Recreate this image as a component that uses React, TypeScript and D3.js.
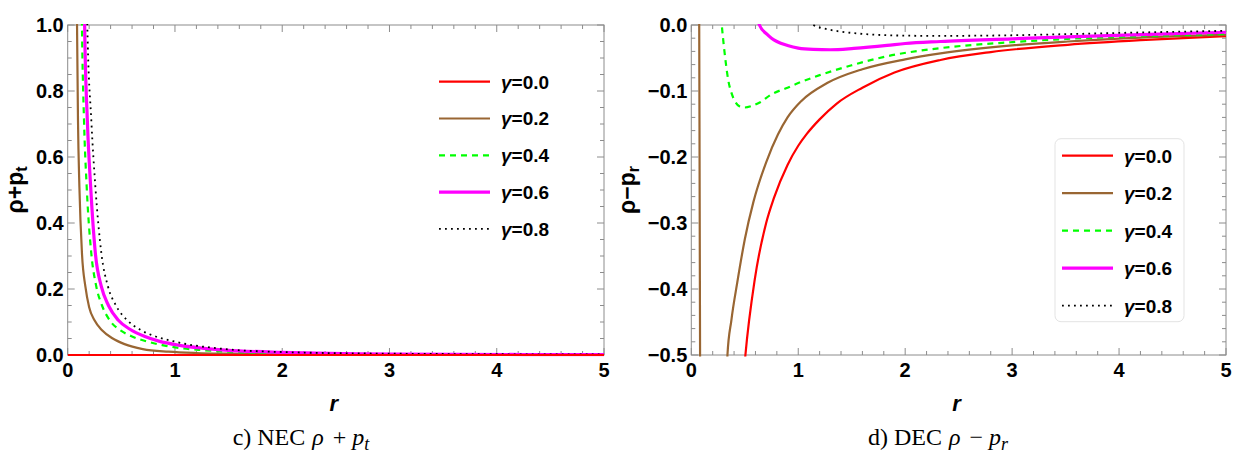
import React from 'react';
import * as d3 from 'd3';

type P = [number, number];

// ---------- data ----------
const gammaLabels = ['0.0', '0.2', '0.4', '0.6', '0.8'];
const xTicks = [0, 1, 2, 3, 4, 5];
const necYTicks = [0, 0.2, 0.4, 0.6, 0.8, 1.0];
const decYTicks = [0, -0.1, -0.2, -0.3, -0.4, -0.5];

// NEC  rho + p_t
const necG00: P[] = [[0, 0], [5, 0]];
const necG02: P[] = [[0.082, 1.15], [0.087, 1.0], [0.096, 0.71], [0.109, 0.51], [0.133, 0.308], [0.165, 0.207], [0.2, 0.145], [0.25, 0.105], [0.32, 0.075], [0.42, 0.05], [0.53, 0.033], [0.7, 0.018], [0.94, 0.01], [1.2, 0.006], [1.5, 0.004], [2, 0.002], [3, 0.001], [5, 0.0003]];
const necG04: P[] = [[0.128, 1.15], [0.133, 1.0], [0.152, 0.712], [0.177, 0.51], [0.22, 0.308], [0.267, 0.207], [0.32, 0.15], [0.39, 0.106], [0.5, 0.073], [0.6, 0.056], [0.75, 0.04], [0.88, 0.03], [1.05, 0.021], [1.25, 0.015], [1.5, 0.01], [2, 0.005], [3, 0.002], [5, 0.0006]];
const necG06: P[] = [[0.153, 1.15], [0.158, 1.0], [0.183, 0.712], [0.214, 0.51], [0.258, 0.308], [0.314, 0.207], [0.38, 0.15], [0.47, 0.106], [0.58, 0.078], [0.72, 0.056], [0.85, 0.042], [1.03, 0.03], [1.25, 0.021], [1.47, 0.015], [2, 0.008], [3, 0.003], [5, 0.001]];
const necG08: P[] = [[0.178, 1.15], [0.183, 1.0], [0.22, 0.712], [0.258, 0.51], [0.314, 0.308], [0.376, 0.207], [0.45, 0.15], [0.553, 0.106], [0.68, 0.076], [0.82, 0.056], [0.98, 0.042], [1.16, 0.03], [1.35, 0.022], [1.53, 0.016], [2, 0.009], [3, 0.004], [5, 0.0015]];

// DEC  rho - p_r
const decG00: P[] = [[0.49, -0.53], [0.506, -0.5], [0.594, -0.385], [0.7, -0.3], [0.773, -0.262], [0.9, -0.212], [1.0, -0.183], [1.08, -0.165], [1.2, -0.143], [1.36, -0.119], [1.6, -0.095], [1.9, -0.072], [2.33, -0.053], [2.8, -0.041], [3.52, -0.03], [4.2, -0.023], [5, -0.017]];
const decG02a: P[] = [[0.07, 0.05], [0.074, 0], [0.078, -0.25], [0.082, -0.5], [0.084, -0.6]];
const decG02b: P[] = [[0.33, -0.53], [0.338, -0.5], [0.375, -0.447], [0.43, -0.39], [0.5, -0.325], [0.581, -0.268], [0.7, -0.208], [0.81, -0.166], [0.9, -0.14], [1.03, -0.115], [1.27, -0.088], [1.6, -0.067], [2.0, -0.052], [2.33, -0.043], [3.0, -0.031], [3.52, -0.025], [4.2, -0.019], [5, -0.015]];
const decG04: P[] = [[0.27, 0.03], [0.285, 0], [0.31, -0.04], [0.345, -0.083], [0.378, -0.104], [0.41, -0.116], [0.45, -0.123], [0.5, -0.125], [0.56, -0.123], [0.644, -0.117], [0.75, -0.105], [0.9, -0.095], [1.0, -0.088], [1.2, -0.076], [1.5, -0.061], [1.84, -0.047], [2.33, -0.035], [3.0, -0.026], [3.52, -0.021], [4.2, -0.017], [5, -0.0136]];
const decG06: P[] = [[0.62, 0.012], [0.637, 0], [0.707, -0.014], [0.75, -0.02], [0.8, -0.025], [0.9, -0.031], [1.0, -0.035], [1.14, -0.037], [1.3, -0.0375], [1.52, -0.0355], [1.83, -0.031], [2.0, -0.028], [2.33, -0.025], [3.0, -0.021], [3.52, -0.018], [4.2, -0.0145], [5, -0.011]];
const decG08: P[] = [[1.1, 0.006], [1.14, 0], [1.25, -0.0055], [1.375, -0.0095], [1.5, -0.012], [1.69, -0.0145], [1.955, -0.016], [2.3, -0.0165], [2.8, -0.016], [3.52, -0.0138], [4.2, -0.0113], [5, -0.0088]];

// ---------- styles ----------
const STYLES = [
  { color: '#ff0000', width: 2.2, dash: '' },
  { color: '#996633', width: 2.2, dash: '' },
  { color: '#00ff00', width: 2.2, dash: '6,5' },
  { color: '#ff00ff', width: 3.2, dash: '' },
  { color: '#000000', width: 1.8, dash: '1.8,4.2' },
];

const SANS = '"Liberation Sans", Arial, sans-serif';
const SERIF = '"Liberation Serif", "Times New Roman", serif';
const FRAME = '#8c8c8c';

interface PanelProps {
  id: string;
  x0: number; x1: number; yTop: number; yBot: number;
  yDomain: [number, number];
  yTicks: number[];
  yMinorStep: number;
  series: { data: P[]; style: number }[];
  legend: { x: number; y: number; step: number; box?: boolean };
  yLabelX: number;
  yLabelMain: string;
  yLabelSub: string;
  caption: { cx: number; prefix: string; op: string; sub: string };
}

function fmt(v: number) {
  const s = Math.abs(v).toFixed(1);
  return v < 0 ? '\u2212' + s : s;
}

function Panel(p: PanelProps) {
  const xs = d3.scaleLinear().domain([0, 5]).range([p.x0, p.x1]);
  const ys = d3.scaleLinear().domain(p.yDomain).range([p.yBot, p.yTop]);
  const line = d3.line<P>().x(d => xs(d[0])).y(d => ys(d[1])).curve(d3.curveMonotoneX);

  const xMinor = d3.range(0, 5.0001, 0.2);
  const yMinor = d3.range(p.yDomain[0], p.yDomain[1] + 1e-6, p.yMinorStep);
  const isMajorX = (v: number) => Math.abs(v - Math.round(v)) < 1e-6;
  const isMajorY = (v: number) => p.yTicks.some(t => Math.abs(t - v) < 1e-6);
  const MAJ = 7, MIN = 4;

  const ticks: JSX.Element[] = [];
  xMinor.forEach((v, i) => {
    const L = isMajorX(v) ? MAJ : MIN;
    const x = xs(v);
    ticks.push(<line key={'xb' + i} x1={x} x2={x} y1={p.yBot} y2={p.yBot - L} stroke={FRAME} strokeWidth={1} />);
    ticks.push(<line key={'xt' + i} x1={x} x2={x} y1={p.yTop} y2={p.yTop + L} stroke={FRAME} strokeWidth={1} />);
  });
  yMinor.forEach((v, i) => {
    const L = isMajorY(v) ? MAJ : MIN;
    const y = ys(v);
    ticks.push(<line key={'yl' + i} x1={p.x0} x2={p.x0 + L} y1={y} y2={y} stroke={FRAME} strokeWidth={1} />);
    ticks.push(<line key={'yr' + i} x1={p.x1} x2={p.x1 - L} y1={y} y2={y} stroke={FRAME} strokeWidth={1} />);
  });

  const midY = (p.yTop + p.yBot) / 2;
  const midX = (p.x0 + p.x1) / 2;
  const lg = p.legend;

  return (
    <g>
      <defs>
        <clipPath id={p.id + '-clip'}>
          <rect x={p.x0} y={p.yTop - 1} width={p.x1 - p.x0} height={p.yBot - p.yTop + 2.5} />
        </clipPath>
      </defs>
      <rect x={p.x0} y={p.yTop} width={p.x1 - p.x0} height={p.yBot - p.yTop} fill="none" stroke={FRAME} strokeWidth={1} />
      {ticks}
      {/* tick labels */}
      {xTicks.map(t => (
        <text key={'xl' + t} x={xs(t)} y={p.yBot + 22} textAnchor="middle" fontFamily={SANS} fontWeight="bold" fontSize={20}>{t}</text>
      ))}
      {p.yTicks.map(t => (
        <text key={'ylab' + t} x={p.x0 - 4} y={ys(t)} dy="0.36em" textAnchor="end" fontFamily={SANS} fontWeight="bold" fontSize={20}>{fmt(t)}</text>
      ))}
      {/* legend */}
      {lg.box && (
        <rect x={lg.x - 7} y={lg.y - 17} width={129} height={183} rx={6} fill="#fff" stroke="#e3e3e3" strokeWidth={1} />
      )}
      {/* curves */}
      <g clipPath={`url(#${p.id}-clip)`}>
        {p.series.map((s, i) => {
          const st = STYLES[s.style];
          return (
            <path key={'c' + i} d={line(s.data) || ''} fill="none" stroke={st.color} strokeWidth={st.width}
              strokeDasharray={st.dash || undefined} strokeLinejoin="round" />
          );
        })}
      </g>
      {gammaLabels.map((g, i) => {
        const st = STYLES[i];
        const y = lg.y + i * lg.step;
        return (
          <g key={'lg' + i}>
            <line x1={lg.x} x2={lg.x + 51} y1={y} y2={y} stroke={st.color} strokeWidth={st.width}
              strokeDasharray={st.dash || undefined} />
            <text x={lg.x + 62} y={y} dy="0.36em" fontFamily={SANS} fontWeight="bold" fontSize={19}>
              <tspan fontStyle="italic">γ</tspan>={g}
            </text>
          </g>
        );
      })}
      {/* axis labels */}
      <text x={midX - 2} y={411} textAnchor="middle" fontFamily={SANS} fontWeight="bold" fontStyle="italic" fontSize={22}>r</text>
      <text transform={`translate(${p.yLabelX},${midY}) rotate(-90)`} textAnchor="middle" fontFamily={SANS} fontWeight="bold" fontSize={23}>
        {p.yLabelMain}<tspan fontSize={16} dy={4}>{p.yLabelSub}</tspan>
      </text>
      {/* caption */}
      <text x={p.caption.cx} y={445} textAnchor="middle" fontFamily={SERIF} fontSize={24}>
        {p.caption.prefix}<tspan fontStyle="italic" dx={7}>ρ</tspan>
        <tspan dx={9}>{p.caption.op}</tspan>
        <tspan fontStyle="italic" dx={6}>p</tspan>
        <tspan fontStyle="italic" fontSize={18} dy={5}>{p.caption.sub}</tspan>
      </text>
    </g>
  );
}

export default function App() {
  return (
    <div style={{ position: 'absolute', left: 0, top: 0, width: 1240, height: 465, background: '#fff' }}>
      <svg width={1240} height={465} viewBox="0 0 1240 465" style={{ display: 'block' }}>
        <rect width={1240} height={465} fill="#fff" />
        <Panel
          id="nec"
          x0={67.7} x1={604} yTop={25} yBot={355}
          yDomain={[0, 1]}
          yTicks={necYTicks}
          yMinorStep={0.05}
          series={[
            { data: necG02, style: 1 },
            { data: necG04, style: 2 },
            { data: necG06, style: 3 },
            { data: necG08, style: 4 },
            { data: necG00, style: 0 },
          ]}
          legend={{ x: 439, y: 81.7, step: 36.8 }}
          yLabelX={23}
          yLabelMain="ρ+p"
          yLabelSub="t"
          caption={{ cx: 301, prefix: 'c) NEC', op: '+', sub: 't' }}
        />
        <Panel
          id="dec"
          x0={691.3} x1={1226} yTop={25} yBot={355}
          yDomain={[-0.5, 0]}
          yTicks={decYTicks}
          yMinorStep={0.02}
          series={[
            { data: decG00, style: 0 },
            { data: decG02a, style: 1 },
            { data: decG02b, style: 1 },
            { data: decG04, style: 2 },
            { data: decG06, style: 3 },
            { data: decG08, style: 4 },
          ]}
          legend={{ x: 1062, y: 155.7, step: 37.5, box: true }}
          yLabelX={635}
          yLabelMain="ρ−p"
          yLabelSub="r"
          caption={{ cx: 938, prefix: 'd) DEC', op: '−', sub: 'r' }}
        />
      </svg>
    </div>
  );
}
